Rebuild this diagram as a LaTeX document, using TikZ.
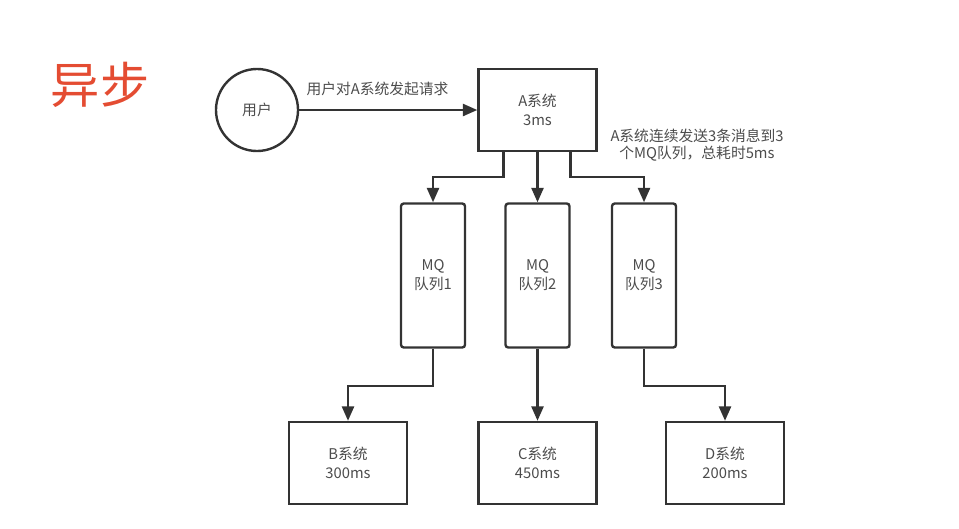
\documentclass[tikz,border=0pt]{standalone}
\usepackage{fontspec}
\setmainfont{Noto Sans CJK SC}
\usetikzlibrary{arrows.meta,positioning}
\definecolor{linegray}{RGB}{51,51,51}
\definecolor{titlered}{RGB}{228,76,50}

\begin{document}
\begin{tikzpicture}[
    x=0.025cm, y=-0.025cm,
    font=\fontsize{10.5}{13.5}\selectfont,
    sysbox/.style={rectangle, draw=linegray, line width=1.7pt, text=black!70, align=center, minimum width=2.95cm, minimum height=2.05cm},
    mqbox/.style={rectangle, draw=linegray, line width=1.7pt, text=black!70, align=center, rounded corners=2pt, minimum width=1.6cm, minimum height=3.6cm},
    arrow/.style={draw=linegray, line width=1.7pt, -{Triangle[length=0.36cm,width=0.3cm]}}
]
    \useasboundingbox (0,0) rectangle (959,528);
    \node[text=titlered, font=\fontsize{35}{40}\selectfont] (title) at (100,85) {异步};
    \node[circle, draw=linegray, line width=1.7pt, minimum size=2.05cm, text=black!70] (user) at (257,110) {用户};
    \node[sysbox] (asys) at (537.5,110) {A系统\\3ms};
    \node[text=black!70, align=center, font=\fontsize{10.5}{12.5}\selectfont] (note) at (697,145) {A系统连续发送3条消息到3\\个MQ队列，总耗时5ms};

    \node[mqbox] (mq1) at (433,275.5) {MQ\\队列1};
    \node[mqbox] (mq2) at (537.5,275.5) {MQ\\队列2};
    \node[mqbox] (mq3) at (644,275.5) {MQ\\队列3};

    \node[sysbox] (bsys) at (348,463) {B系统\\300ms};
    \node[sysbox] (csys) at (537.5,463) {C系统\\450ms};
    \node[sysbox] (dsys) at (725,463) {D系统\\200ms};

    \draw[arrow] (user) -- node[pos=0.44, above=0.2cm, text=black!70] {用户对A系统发起请求} (asys);

    \draw[arrow] ([xshift=-0.85cm]asys.south) -- ++(0,25) -| (mq1.north);
    \draw[arrow] (asys) -- (mq2);
    \draw[arrow] ([xshift=0.825cm]asys.south) -- ++(0,25) -| (mq3.north);

    \draw[arrow] (mq1.south) -- ++(0,37) -| (bsys.north);
    \draw[arrow] (mq2) -- (csys);
    \draw[arrow] (mq3.south) -- ++(0,37) -| (dsys.north);
\end{tikzpicture}
\end{document}
